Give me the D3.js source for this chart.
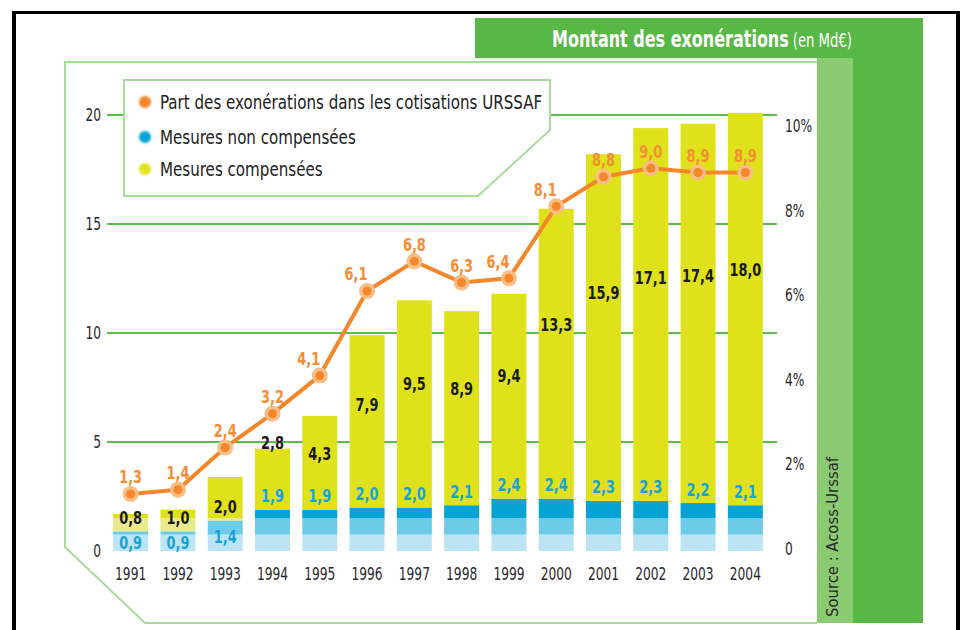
<!DOCTYPE html>
<html><head><meta charset="utf-8">
<script src="https://cdn.jsdelivr.net/npm/d3@7"></script>
<style>html,body{margin:0;padding:0;background:#fff;}svg{display:block;}</style>
</head><body>
<svg id="chart" width="965" height="630"></svg>
<script>
// ---- data ----
const years = ["1991","1992","1993","1994","1995","1996","1997","1998","1999","2000","2001","2002","2003","2004"];
const nonCompensees = [0.9,0.9,1.4,1.9,1.9,2.0,2.0,2.1,2.4,2.4,2.3,2.3,2.2,2.1];
const compensees = [0.8,1.0,2.0,2.8,4.3,7.9,9.5,8.9,9.4,13.3,15.9,17.1,17.4,18.0];
const partURSSAF = [1.3,1.4,2.4,3.2,4.1,6.1,6.8,6.3,6.4,8.1,8.8,9.0,8.9,8.9];
const leftTicks = [0,5,10,15,20];
const rightTicks = [0,2,4,6,8,10];
const legendLabels = ["Part des exonérations dans les cotisations URSSAF","Mesures non compensées","Mesures compensées"];
const titleBold = "Montant des exonérations";
const titleUnit = "(en Md€)";
const sourceText = "Source : Acoss-Urssaf";

const FONT = "'DejaVu Sans Condensed','Liberation Sans Narrow','Arial Narrow',sans-serif";
const C = {
  green:"#58b846", lightGreen:"#8acb72", frame:"#a9dc9c", grid:"#5dbd49",
  orange:"#f5862a", orangeHalo:"#f9bd86", orangeText:"#f58d34",
  blueDark:"#06a4d4", blueMid:"#6ecbe8", blueLight:"#bde4f4", blueText:"#18a2d8",
  yellow:"#dfe21b", yellowPale:"#e7eb8e", text:"#2a2a2a"
};
const fmt = v => d3.format(".1f")(v).replace(".", ",");
const SX = 0.8; // horizontal condensing of labels

const svg = d3.select("#chart").style("font-family", FONT);
const defs = svg.append("defs");
defs.append("filter").attr("id","soft").attr("x","-50%").attr("y","-50%").attr("width","200%").attr("height","200%")
  .append("feGaussianBlur").attr("stdDeviation",0.9);

// ---- frame / decoration ----
svg.append("rect").attr("x",13).attr("y",11).attr("width",947).attr("height",3).attr("fill","#000");
svg.append("rect").attr("x",12).attr("y",11).attr("width",4).attr("height",619).attr("fill","#000");
svg.append("rect").attr("x",956).attr("y",11).attr("width",4).attr("height",619).attr("fill","#000");

svg.append("rect").attr("x",475).attr("y",18).attr("width",448).attr("height",40).attr("fill",C.green);
svg.append("rect").attr("x",817).attr("y",58).attr("width",36).attr("height",565).attr("fill",C.lightGreen);
svg.append("rect").attr("x",853).attr("y",58).attr("width",70).attr("height",565).attr("fill",C.green);

// title: bold part + unit, condensed to fit ~300px, centred in the header
const tg = svg.append("g");
const tBold = tg.append("text").attr("fill","#fff").attr("font-weight","bold").style("font-size","23px").text(titleBold);
const tUnit = tg.append("text").attr("fill","#fff").style("font-size","19px").text(titleUnit);
const wB = tBold.node().getComputedTextLength(), wU = tUnit.node().getComputedTextLength();
const gap = 5, total = wB + gap + wU, tScale = 300/total;
tBold.attr("x",-total/2);
tUnit.attr("x",-total/2 + wB + gap);
tg.attr("transform",`translate(702,47) scale(${tScale},1)`);

svg.append("polyline")
  .attr("points","817,62 65,62 65,547 145,623 817,623")
  .attr("fill","none").attr("stroke",C.frame).attr("stroke-width",2);

svg.append("text").attr("transform","translate(838,617) rotate(-90)")
  .attr("fill",C.text).style("font-size","16px")
  .attr("textLength",160).attr("lengthAdjust","spacingAndGlyphs").text(sourceText);

// ---- scales ----
const x = d3.scaleBand().domain(years).range([107,769]).paddingInner(0.26).paddingOuter(0.13);
const y = d3.scaleLinear().domain([0,20]).range([551,115]);
const yr = d3.scaleLinear().domain([0,10]).range([549,126]);

// ---- grid + axes ----
svg.append("g").selectAll("line").data(leftTicks.filter(d=>d>0)).join("line")
  .attr("x1",107).attr("x2",777).attr("y1",d=>y(d)).attr("y2",d=>y(d))
  .attr("stroke",C.grid).attr("stroke-width",2);

function styleAxis(g){
  g.select(".domain").remove();
  g.selectAll("text").style("font-size","17px").style("font-family",FONT).attr("fill",C.text)
    .attr("transform",`scale(${SX},1)`);
}
svg.append("g").attr("transform","translate(101,0)")
  .call(d3.axisLeft(y).tickValues(leftTicks).tickSize(0).tickPadding(0).tickFormat(d=>d))
  .call(styleAxis);
svg.append("g").attr("transform","translate(785,0)")
  .call(d3.axisRight(yr).tickValues(rightTicks).tickSize(0).tickPadding(0).tickFormat(d=>d===0?"0":d+"%"))
  .call(styleAxis);
svg.append("g").attr("transform","translate(0,568)")
  .call(d3.axisBottom(x).tickSize(0).tickPadding(0))
  .call(styleAxis);

// ---- bars ----
const T1 = 0.75, T2 = 1.5;
const rows = years.map((yr_,i)=>({year:yr_, b:nonCompensees[i], c:compensees[i], p:partURSSAF[i]}));
const segs = [];
rows.forEach(d=>{
  const b=d.b, t=d.b+d.c;
  segs.push({year:d.year, lo:0, hi:Math.min(b,T1), col:C.blueLight});
  if (b>T1) segs.push({year:d.year, lo:T1, hi:Math.min(b,T2), col:C.blueMid});
  if (b>T2) segs.push({year:d.year, lo:T2, hi:b, col:C.blueDark});
  if (b<T2) segs.push({year:d.year, lo:b, hi:Math.min(t,T2), col:C.yellowPale});
  segs.push({year:d.year, lo:Math.max(b,T2), hi:t, col:C.yellow});
});
svg.append("g").selectAll("rect").data(segs.filter(s=>s.hi>s.lo)).join("rect")
  .attr("x",s=>x(s.year)).attr("width",x.bandwidth())
  .attr("y",s=>y(s.hi)).attr("height",s=>y(s.lo)-y(s.hi)).attr("fill",s=>s.col);

const cx = d=>x(d.year)+x.bandwidth()/2;
function valueLabels(data, px, py, color, txt){
  svg.append("g").selectAll("text").data(data).join("text")
    .attr("transform",(d,i)=>`translate(${px(d,i)},${py(d,i)}) scale(${SX},1)`)
    .attr("dy","0.36em").attr("text-anchor","middle")
    .attr("fill",color).attr("font-weight","bold").style("font-size","18px")
    .text(txt);
}
// blue labels
valueLabels(rows, cx, d=> d.b<T2 ? (y(0)+y(d.b))/2+1 : y(d.b)-14, C.blueText, d=>fmt(d.b));
// black labels
valueLabels(rows, cx, d=> d.b<T2 ? y(d.b)-14 : (d.c<3.5 ? y(d.b+d.c)-6 : y(d.b+d.c*0.6)), "#1a1a1a", d=>fmt(d.c));

// ---- line ----
svg.append("path").datum(rows)
  .attr("d",d3.line().x(cx).y(d=>yr(d.p)))
  .attr("fill","none").attr("stroke",C.orange).attr("stroke-width",4).attr("stroke-linejoin","round");
svg.append("g").selectAll("circle").data(rows).join("circle")
  .attr("cx",cx).attr("cy",d=>yr(d.p)).attr("r",8).attr("fill",C.orangeHalo);
svg.append("g").selectAll("circle").data(rows).join("circle")
  .attr("cx",cx).attr("cy",d=>yr(d.p)).attr("r",4.5).attr("fill",C.orange);

valueLabels(rows, (d,i)=>{
    const prev = i>0 ? d.p-rows[i-1].p : 0;
    const next = i<rows.length-1 ? rows[i+1].p-d.p : 0;
    return cx(d) - ((prev>1.2||next>1.2) ? 11 : 0);
  }, d=>yr(d.p)-17, C.orangeText, d=>fmt(d.p));

// ---- legend ----
svg.append("polygon").attr("points","124,80 550,80 550,130 478,196 124,196")
  .attr("fill","#fff").attr("stroke",C.frame).attr("stroke-width",2);
const legCols = [C.orange, C.blueDark, C.yellow];
const leg = svg.append("g").selectAll("g").data(legendLabels).join("g")
  .attr("transform",(d,i)=>`translate(145,${[102,137,169][i]})`);
leg.append("circle").attr("r",6).attr("fill",(d,i)=>legCols[i]).attr("filter","url(#soft)");
leg.append("text").attr("transform","translate(15,0) scale(0.84,1)").attr("dy","0.36em").attr("fill","#222")
  .style("font-size","20px").text(d=>d);
</script>
</body></html>
